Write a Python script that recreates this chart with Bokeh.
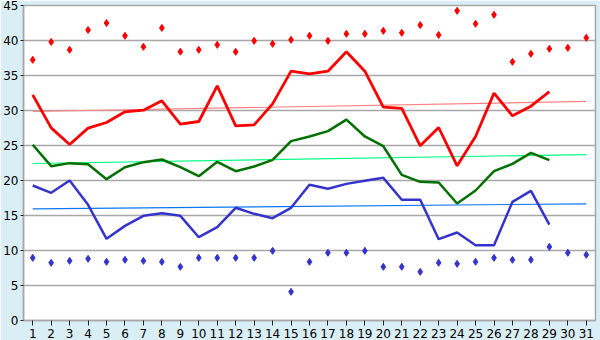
from bokeh.plotting import figure
from bokeh.models import FixedTicker, Range1d
from bokeh.embed import file_html
from bokeh.resources import INLINE

days = list(range(1, 32))
days_line = list(range(1, 30))

max_points = [37.24, 39.8, 38.67, 41.5, 42.5, 40.67, 39.1, 41.8, 38.4, 38.67,
              39.38, 38.38, 39.95, 39.52, 40.1, 40.67, 39.95, 40.95, 40.95, 41.38,
              41.1, 42.2, 40.8, 44.24, 42.38, 43.67, 36.95, 38.1, 38.81, 38.95, 40.38]
min_points = [8.95, 8.24, 8.52, 8.81, 8.38, 8.67, 8.52, 8.38, 7.67, 8.95,
              8.95, 8.95, 8.95, 9.95, 4.1, 8.38, 9.67, 9.67, 9.95, 7.67,
              7.67, 6.95, 8.24, 8.1, 8.38, 8.95, 8.67, 8.67, 10.52, 9.67, 9.38]
red_line = [32.24, 27.52, 25.14, 27.48, 28.29, 29.81, 30.05, 31.38, 28.05, 28.43,
            33.52, 27.81, 27.95, 30.95, 35.62, 35.24, 35.62, 38.38, 35.62, 30.48,
            30.29, 24.95, 27.57, 22.1, 26.29, 32.48, 29.24, 30.62, 32.71]
green_line = [25.1, 22.05, 22.48, 22.33, 20.19, 21.9, 22.62, 23.0, 21.9, 20.62,
              22.67, 21.33, 22.0, 22.95, 25.62, 26.29, 27.05, 28.7, 26.29, 24.9,
              20.81, 19.81, 19.71, 16.71, 18.57, 21.33, 22.38, 23.95, 22.9]
blue_line = [19.29, 18.24, 20.0, 16.52, 11.67, 13.52, 14.95, 15.33, 14.95, 11.9,
             13.33, 16.1, 15.24, 14.62, 16.1, 19.38, 18.81, 19.52, 19.95, 20.38,
             17.24, 17.24, 11.62, 12.57, 10.76, 10.76, 16.95, 18.52, 13.71]
trend_days = [1, 31]
red_trend = [29.86, 31.29]
green_trend = [22.43, 23.71]
blue_trend = [15.95, 16.67]
y_ticks = [0, 5, 10, 15, 20, 25, 30, 35, 40, 45]

p = figure(width=600, height=340, output_backend="svg", toolbar_location=None,
           x_range=Range1d(0.5, 31.5), y_range=Range1d(0, 45),
           min_border_left=0, min_border_right=5, min_border_top=5, min_border_bottom=0)
p.border_fill_color = "#DAEEF5"
p.background_fill_color = "white"
p.outline_line_color = "#A8A8A8"
p.outline_line_width = 1.5

p.xgrid.grid_line_color = None
p.ygrid.grid_line_color = "#A8A8A8"
p.ygrid.grid_line_width = 1.5
p.xaxis.ticker = FixedTicker(ticks=days)
p.yaxis.ticker = FixedTicker(ticks=y_ticks)
for ax in (p.xaxis, p.yaxis):
    ax.axis_line_color = "#A8A8A8"
    ax.axis_line_width = 1.5
    ax.major_tick_line_color = "#222222"
    ax.major_tick_in = 0
    ax.minor_tick_line_color = None
    ax.major_label_text_font = "DejaVu Sans"
    ax.major_label_text_font_size = "12px"
    ax.major_label_text_color = "black"
p.xaxis.major_tick_out = 5
p.yaxis.major_tick_out = 3
p.xaxis.major_label_standoff = 3
p.yaxis.major_label_standoff = 2

p.line(trend_days, red_trend, line_color="#FF8080", line_width=1.2)
p.line(trend_days, green_trend, line_color="#00FF80", line_width=1.2)
p.line(trend_days, blue_trend, line_color="#0A78F0", line_width=1.2)

p.line(days_line, red_line, line_color="#FF0000", line_width=2.8)
p.line(days_line, green_line, line_color="#007000", line_width=2.5)
p.line(days_line, blue_line, line_color="#3434CC", line_width=2.5)

p.scatter(days, max_points, marker="diamond", size=7, color="#FF0000")
p.scatter(days, min_points, marker="diamond", size=7, color="#3434CC")

open("out.html", "w").write(file_html(p, INLINE))
